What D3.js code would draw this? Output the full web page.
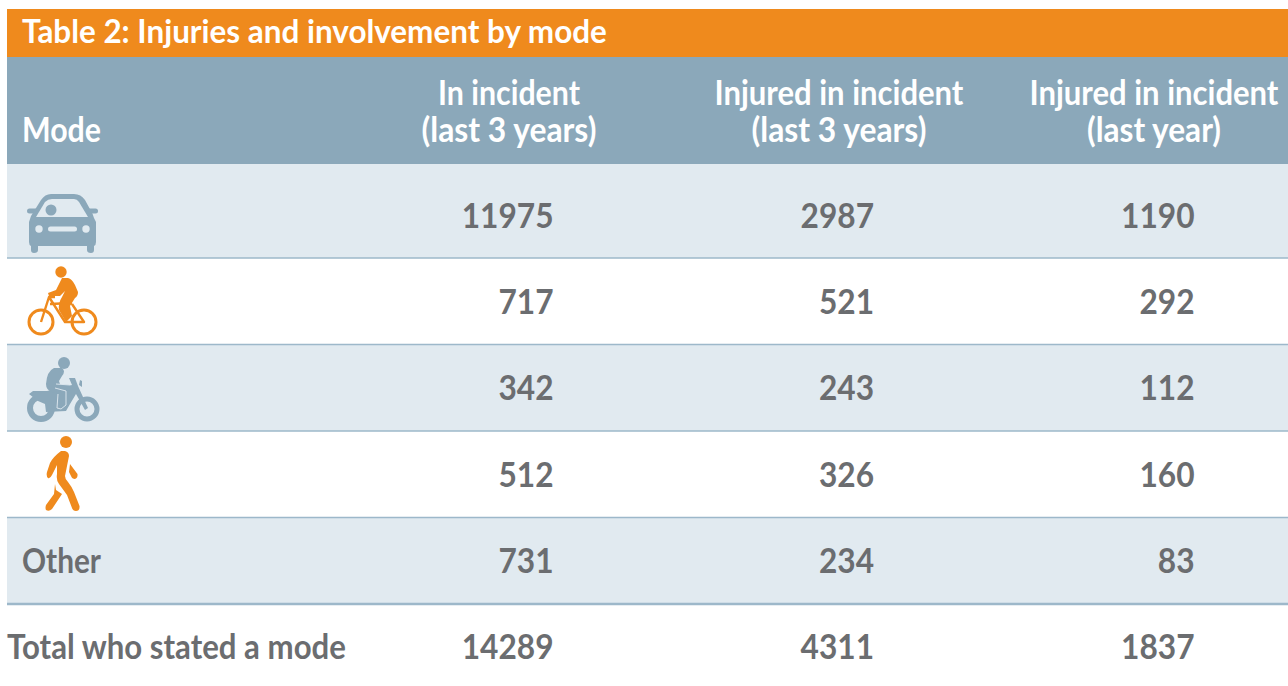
<!DOCTYPE html>
<html>
<head>
<meta charset="utf-8">
<script src="https://cdnjs.cloudflare.com/ajax/libs/d3/7.8.5/d3.min.js"></script>
<style>
  html, body { margin: 0; padding: 0; background: #fff; overflow: hidden; }
  text { font-family: "Lato", "Open Sans", sans-serif; font-weight: 700; }
</style>
</head>
<body>
<div id="chart"></div>
<script>
(function(){

  let width = 1288;
  let height = 686;

  //table contents
  const title = "Table 2: Injuries and involvement by mode";
  const modeHeader = "Mode";
  const columns = ["In incident", "Injured in incident", "Injured in incident (last year)"];
  const headerLine1 = ["In incident", "Injured in incident", "Injured in incident"];
  const headerLine2 = ["(last 3 years)", "(last 3 years)", "(last year)"];
  const modes = ["car", "bicycle", "motorcycle", "pedestrian", "Other", "Total who stated a mode"];
  const inIncident = [11975, 717, 342, 512, 731, 14289];
  const injured3y = [2987, 521, 243, 326, 234, 4311];
  const injured1y = [1190, 292, 112, 160, 83, 1837];

  const orange = "#ef8a1d";
  const blue = "#8ba8ba";
  const pale = "#e1eaf0";
  const rule = "#9db8ca";
  const grey = "#6b6d70";

  let svg = d3.select("#chart")
    .append("svg")
    .attr("width", width)
    .attr("height", height);

  //one x per number column, one y per row
  let xRight = d3.scalePoint().domain(columns).range([553.5, 1194.5]);
  let yMid = d3.scaleLinear().domain([0, 5]).range([216, 647]);
  let rowBottom = d3.scaleLinear().domain([0, 4]).range([258, 604]);
  const headerX = [509, 839, 1154];

  //squeeze a text sideways to a set width, the original face is tall and narrow
  function fit(node, x, y, w){
    let k = w / node.getComputedTextLength();
    d3.select(node).attr("transform", "translate(" + x + "," + y + ") scale(" + k + ",1)");
  }

  //bands
  svg.append("rect").attr("x", 7).attr("y", 9).attr("width", width - 7).attr("height", 48).attr("fill", orange);
  svg.append("rect").attr("x", 7).attr("y", 57).attr("width", width - 7).attr("height", 107).attr("fill", blue);

  //striped rows, 0 2 4 are tinted
  let rows = d3.range(5);
  svg.selectAll(".row")
    .data(rows.filter(d => d % 2 == 0))
    .enter().append("rect")
    .attr("class", "row")
    .attr("x", 7)
    .attr("y", d => d == 0 ? 164 : rowBottom(d - 1))
    .attr("width", width - 7)
    .attr("height", d => rowBottom(d) - (d == 0 ? 164 : rowBottom(d - 1)))
    .attr("fill", pale);

  svg.selectAll(".rule")
    .data(rows)
    .enter().append("line")
    .attr("class", "rule")
    .attr("x1", 7)
    .attr("x2", width)
    .attr("y1", d => rowBottom(d))
    .attr("y2", d => rowBottom(d))
    .attr("stroke", rule)
    .attr("stroke-width", d => d == 4 ? 2.4 : 1.6);

  //header text
  svg.append("text").attr("font-size", 33).attr("fill", "#fff").text(title)
    .each(function(){ fit(this, 22, 43, 585); });
  svg.append("text").attr("font-size", 34).attr("fill", "#fff").text(modeHeader)
    .each(function(){ fit(this, 22, 142, 79); });

  const line1Width = [142, 249, 249];
  const line2Width = [175, 175, 134];

  svg.selectAll(".head1")
    .data(headerLine1)
    .enter().append("text")
    .attr("class", "head1")
    .attr("font-size", 34)
    .attr("fill", "#fff")
    .text(d => d)
    .each(function(d, i){ fit(this, headerX[i] - line1Width[i] / 2, 105, line1Width[i]); });

  svg.selectAll(".head2")
    .data(headerLine2)
    .enter().append("text")
    .attr("class", "head2")
    .attr("font-size", 34)
    .attr("fill", "#fff")
    .text(d => d)
    .each(function(d, i){ fit(this, headerX[i] - line2Width[i] / 2, 142, line2Width[i]); });

  //numbers
  [inIncident, injured3y, injured1y].forEach(function(values, c){
    svg.selectAll(".num" + c)
      .data(values)
      .enter().append("text")
      .attr("class", "num" + c)
      .attr("text-anchor", "end")
      .attr("font-size", 33.5)
      .attr("fill", grey)
      .text(d => d)
      .attr("transform", (d, i) => "translate(" + xRight(columns[c]) + "," + (yMid(i) + 12) + ") scale(0.945,1)");
  });

  //text labels for the last two rows
  svg.append("text").attr("font-size", 34).attr("fill", grey).text(modes[4])
    .each(function(){ fit(this, 22, yMid(4) + 12, 79); });
  svg.append("text").attr("font-size", 33.5).attr("fill", grey).text(modes[5])
    .each(function(){ fit(this, 7, yMid(5) + 12, 339); });

  //icons, paths traced by eye in page pixels
  let car = svg.append("g").attr("fill", blue);
  car.append("path").attr("d", "M51 194 H74 Q81 194 85 200 L91 211 Q93 214 94 218 L96 222 V242 Q96 245 94 246 V250 Q94 253 91 253 Q87 253 87 250 V246 H38 V250 Q38 253 34 253 Q31 253 31 250 V246 Q29 245 29 242 V222 L31 216 L41 200 Q45 194 51 194 Z");
  car.append("rect").attr("x", 27).attr("y", 208.5).attr("width", 71).attr("height", 5).attr("rx", 2.5);
  car.append("path").attr("d", "M52 199 H74 Q77 199 79 202 L88 217 H36 L45 202 Q48 199 52 199 Z").attr("fill", pale);
  car.append("circle").attr("cx", 51).attr("cy", 210).attr("r", 5.5);
  [39, 86].forEach(function(x){
    car.append("circle").attr("cx", x).attr("cy", 229).attr("r", 3.7).attr("fill", pale);
  });
  car.append("rect").attr("x", 48).attr("y", 226.5).attr("width", 29).attr("height", 5).attr("rx", 2.5).attr("fill", pale);

  let bike = svg.append("g").attr("fill", orange).attr("stroke-linejoin", "round");
  bike.append("circle").attr("cx", 61).attr("cy", 272).attr("r", 5.7);
  [41, 84].forEach(function(x){
    bike.append("circle").attr("cx", x).attr("cy", 322).attr("r", 12).attr("fill", "none").attr("stroke", orange).attr("stroke-width", 3);
  });
  bike.append("path").attr("fill", "none").attr("stroke", orange).attr("stroke-width", 2.4)
    .attr("d", "M41 322 L49 297 L65 322 H84 L72 304 M49 297 H55 M50 304 L72 303");
  bike.append("path").attr("d", "M62 278 H68 Q72 279 75 285 L78 292 Q78 296 75 298 L70 306 L72 316 L66 322 L59 310 Q58 303 62 297 L65 291 L60 296 H49 L48 293 L56 290 Z");

  let moto = svg.append("g").attr("fill", blue);
  moto.append("circle").attr("cx", 64).attr("cy", 363).attr("r", 6);
  moto.append("circle").attr("cx", 41).attr("cy", 408).attr("r", 11).attr("fill", "none").attr("stroke", blue).attr("stroke-width", 6);
  moto.append("circle").attr("cx", 87).attr("cy", 409).attr("r", 10).attr("fill", "none").attr("stroke", blue).attr("stroke-width", 5);
  moto.append("path").attr("d", "M29 394 L33 391 H47 L72 385 L69 378 L75 378 L78 386 L88 408 L85 410 L76 394 L70 404 L66 411 L46 412 L45 404 L38 401 Z");
  moto.append("path").attr("d", "M46 384 Q47 371 54 368 H62 Q66 371 62 376 L59 381 L60 384 L70 385 L71 388 L66 392 L66 404 L62 409 L58 408 L59 395 L52 392 Q46 390 46 384 Z");
  moto.append("path").attr("d", "M80 380 L82 381 V387 L79 385 Z");
  moto.append("path").attr("d", "M56 384 L70 385 M55 388 L66 391 L66 405 L61 409 L57 408 L58 394").attr("fill", "none").attr("stroke", pale).attr("stroke-width", 0.9);

  let walker = svg.append("g").attr("fill", orange);
  walker.append("circle").attr("cx", 66).attr("cy", 442).attr("r", 6);
  walker.append("path").attr("d", "M61 451 H65 Q69 452 69 456 L65 476 Q65 479 68 482 Q72 487 74 492 L79.5 506 Q80 511 76 511 Q73 511 72 508 L67 495 Q62 488 59 484 Q56 480 57 474 L57 465 L52 475 Q50 479 48 478 Q46 476 47 472 L50 463 Q53 457 61 451 Z");
  walker.append("path").attr("d", "M55 484 L56 490 L62 494 L52 509 Q49 512 46 510 Q45 508 46 505 L54 494 Z");
  walker.append("path").attr("d", "M70 464 L77.5 474 Q78 478 75 479 Q72 479 71 476 L69 472 Z");

})();
</script>
</body>
</html>
